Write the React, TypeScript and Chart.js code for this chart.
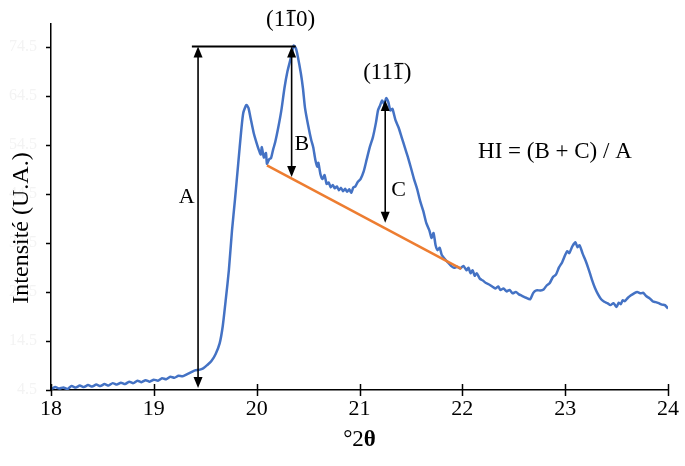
import React, { useEffect, useRef } from 'react';
import { Chart, registerables } from 'chart.js';

Chart.register(...registerables);

// ----- data -----
const twoTheta = [
  18.00, 18.04, 18.08, 18.12, 18.16, 18.20, 18.24, 18.28, 18.32, 18.36, 18.40, 18.44, 18.48, 18.52, 18.56,
  18.60, 18.64, 18.68, 18.72, 18.76, 18.80, 18.84, 18.88, 18.92, 18.96, 19.00, 19.04, 19.08, 19.12, 19.16,
  19.20, 19.24, 19.28, 19.32, 19.36, 19.40, 19.44, 19.48, 19.52, 19.56, 19.60, 19.64, 19.67, 19.70, 19.73,
  19.76, 19.79, 19.82, 19.85, 19.87, 19.90, 19.92, 19.94, 19.97, 19.99, 20.02, 20.04, 20.05, 20.07, 20.09,
  20.10, 20.12, 20.14, 20.16, 20.18, 20.21, 20.24, 20.27, 20.30, 20.33, 20.36, 20.38, 20.40, 20.43, 20.45,
  20.47, 20.50, 20.53, 20.55, 20.57, 20.59, 20.60, 20.62, 20.64, 20.66, 20.68, 20.70, 20.72, 20.74, 20.76,
  20.78, 20.80, 20.82, 20.84, 20.86, 20.88, 20.90, 20.92, 20.94, 20.96, 20.98, 21.01, 21.04, 21.07, 21.10,
  21.13, 21.16, 21.18, 21.20, 21.22, 21.24, 21.26, 21.28, 21.30, 21.32, 21.35, 21.38, 21.41, 21.44, 21.47,
  21.50, 21.53, 21.56, 21.59, 21.62, 21.65, 21.68, 21.70, 21.72, 21.74, 21.76, 21.78, 21.80, 21.83, 21.86,
  21.89, 21.92, 21.95, 21.98, 22.01, 22.04, 22.06, 22.08, 22.10, 22.12, 22.14, 22.17, 22.20, 22.23, 22.26,
  22.29, 22.32, 22.35, 22.37, 22.40, 22.43, 22.46, 22.49, 22.52, 22.55, 22.58, 22.62, 22.66, 22.69, 22.72,
  22.76, 22.79, 22.82, 22.85, 22.88, 22.91, 22.94, 22.97, 23.00, 23.02, 23.04, 23.07, 23.10, 23.12, 23.14,
  23.17, 23.20, 23.23, 23.26, 23.29, 23.32, 23.35, 23.38, 23.41, 23.44, 23.47, 23.50, 23.52, 23.54, 23.56,
  23.58, 23.61, 23.64, 23.67, 23.70, 23.73, 23.76, 23.79, 23.82, 23.85, 23.88, 23.91, 23.94, 23.97, 24.00,
];
const intensity = [
  4.6, 5.1, 4.8, 5.0, 4.7, 5.3, 5.0, 5.4, 5.1, 5.5, 5.2, 5.6, 5.3, 5.7, 5.4,
  5.9, 5.6, 6.0, 5.7, 6.2, 5.9, 6.4, 6.1, 6.5, 6.2, 6.6, 6.4, 6.9, 6.7, 7.2,
  7.0, 7.4, 7.3, 7.7, 8.1, 8.5, 8.6, 8.9, 9.6, 10.4, 11.8, 14.0, 17.5, 23.0, 29.0,
  37.0, 43.5, 50.5, 57.4, 61.0, 62.6, 62.0, 60.0, 57.0, 55.5, 53.5, 52.5, 54.0, 51.9, 52.8,
  50.6, 51.5, 51.8, 53.5, 55.0, 58.0, 61.5, 66.0, 69.5, 72.0, 74.7, 74.2, 72.5, 69.0, 66.0,
  62.0, 58.5, 55.5, 54.0, 51.5, 50.0, 50.8, 48.5, 47.5, 48.3, 46.5, 46.8, 45.8, 46.3, 45.6,
  46.0, 45.2, 45.7, 45.0, 45.5, 44.9, 45.4, 44.7, 45.8, 46.0, 46.8, 47.5, 49.0, 51.5, 54.0,
  56.0, 59.0, 61.5, 62.5, 63.5, 62.8, 64.0, 63.2, 61.5, 61.8, 59.5, 58.0, 56.0, 54.0, 52.0,
  49.8, 47.5, 45.5, 43.0, 41.0, 38.5, 37.0, 35.5, 36.5, 34.0, 33.0, 33.5, 32.0, 31.2, 30.5,
  29.8, 29.4, 29.6, 29.3, 29.8, 28.9, 29.4, 28.3, 28.9, 27.8, 28.3, 27.2, 26.8, 26.3, 26.0,
  25.6, 25.2, 25.6, 24.9, 25.2, 24.6, 24.9, 24.2, 24.5, 24.0, 23.7, 23.3, 23.0, 24.3, 24.8,
  24.8, 25.0, 25.8, 26.3, 27.5, 28.0, 29.5, 30.5, 32.0, 32.8, 32.4, 33.8, 34.6, 33.6, 34.0,
  32.3, 30.8, 29.0, 27.0, 25.3, 24.0, 23.0, 22.5, 22.2, 21.8, 22.2, 21.4, 22.3, 22.0, 22.8,
  22.6, 23.3, 23.8, 24.2, 24.5, 24.2, 24.3, 23.6, 23.2, 22.6, 22.4, 22.2, 21.9, 21.8, 21.1,
];

const baselineTheta = [20.10, 21.99];
const baselineIntensity = [50.3, 29.2];

const capTheta = [19.37, 20.38];
const capIntensity = [74.5, 74.5];

const arrowTheta = [19.43, 20.34, 21.25];
const arrowTop = [74.5, 74.5, 63.6];
const arrowBottom = [4.9, 47.9, 38.6];

const letterText = ['A', 'B', 'C'];
const letterTheta = [19.32, 20.44, 21.38];
const letterIntensity = [43.8, 54.5, 45.3];

const peakParts = [['(1', '1', '0)'], ['(11', '1', ')']];
const peakTheta = [20.33, 21.27];
const peakIntensity = [79.9, 69.1];

const formulaText = 'HI = (B + C) / A';
const formulaTheta = 22.9;
const formulaIntensity = 53.0;

const xTicks = [18, 19, 20, 21, 22, 23, 24];
const yTicks = [4.5, 14.5, 24.5, 34.5, 44.5, 54.5, 64.5, 74.5];

const X_TITLE_A = '°2';
const X_TITLE_B = 'θ';
const Y_TITLE = 'Intensité (U.A.)';

const SERIF = '"Liberation Serif", "Times New Roman", serif';

const annotatePlugin = {
  id: 'annotate',
  afterDatasetsDraw(chart: any) {
    const { ctx, scales } = chart;
    const x = scales.x;
    const y = scales.y;
    ctx.save();
    ctx.strokeStyle = '#000';
    ctx.fillStyle = '#000';
    // arrows
    const head = 11;
    const half = 4.5;
    arrowTheta.forEach((t, i) => {
      const px = x.getPixelForValue(t);
      const yt = y.getPixelForValue(arrowTop[i]);
      const yb = y.getPixelForValue(arrowBottom[i]);
      ctx.lineWidth = 1.6;
      ctx.beginPath();
      ctx.moveTo(px, yt + head - 1);
      ctx.lineTo(px, yb - head + 1);
      ctx.stroke();
      ctx.beginPath();
      ctx.moveTo(px, yt);
      ctx.lineTo(px - half, yt + head);
      ctx.lineTo(px + half, yt + head);
      ctx.closePath();
      ctx.fill();
      ctx.beginPath();
      ctx.moveTo(px, yb);
      ctx.lineTo(px - half, yb - head);
      ctx.lineTo(px + half, yb - head);
      ctx.closePath();
      ctx.fill();
    });
    // letters
    ctx.font = `22px ${SERIF}`;
    ctx.textAlign = 'center';
    ctx.textBaseline = 'middle';
    letterText.forEach((s, i) => {
      ctx.fillText(s, x.getPixelForValue(letterTheta[i]), y.getPixelForValue(letterIntensity[i]));
    });
    // peak labels with overbar
    ctx.font = `23px ${SERIF}`;
    ctx.textAlign = 'left';
    peakParts.forEach((parts, i) => {
      const cx = x.getPixelForValue(peakTheta[i]);
      const cy = y.getPixelForValue(peakIntensity[i]);
      const full = parts.join('');
      const w = ctx.measureText(full).width;
      const x0 = cx - w / 2;
      ctx.fillText(full, x0, cy);
      const a = x0 + ctx.measureText(parts[0]).width;
      const b = a + ctx.measureText(parts[1]).width;
      ctx.lineWidth = 1.3;
      ctx.beginPath();
      ctx.moveTo(a + 1.5, cy - 9.5);
      ctx.lineTo(b - 1, cy - 9.5);
      ctx.stroke();
    });
    // formula
    ctx.textAlign = 'center';
    ctx.font = `23px ${SERIF}`;
    ctx.fillText(formulaText, x.getPixelForValue(formulaTheta), y.getPixelForValue(formulaIntensity));
    ctx.restore();
  },
  afterDraw(chart: any) {
    const { ctx, scales, chartArea } = chart;
    const x = scales.x;
    const y = scales.y;
    ctx.save();
    ctx.strokeStyle = '#000';
    ctx.lineWidth = 1.5;
    xTicks.forEach((v) => {
      const px = Math.round(x.getPixelForValue(v)) + 0.5;
      ctx.beginPath();
      ctx.moveTo(px, chartArea.bottom - 6);
      ctx.lineTo(px, chartArea.bottom + 6);
      ctx.stroke();
    });
    yTicks.forEach((v) => {
      const py = Math.round(y.getPixelForValue(v)) + 0.5;
      ctx.beginPath();
      ctx.moveTo(chartArea.left - 5, py);
      ctx.lineTo(chartArea.left, py);
      ctx.stroke();
    });
    // x title: "°2" regular + "θ" bold
    ctx.fillStyle = '#000';
    ctx.textBaseline = 'middle';
    ctx.textAlign = 'left';
    const cx = (chartArea.left + chartArea.right) / 2;
    ctx.font = `23px ${SERIF}`;
    const wA = ctx.measureText(X_TITLE_A).width;
    ctx.font = `bold 23px ${SERIF}`;
    const wB = ctx.measureText(X_TITLE_B).width;
    const sx = cx - (wA + wB) / 2;
    ctx.font = `23px ${SERIF}`;
    ctx.fillText(X_TITLE_A, sx, 440);
    ctx.font = `bold 23px ${SERIF}`;
    ctx.fillText(X_TITLE_B, sx + wA, 440);
    // y title
    ctx.save();
    ctx.translate(22, 228);
    ctx.rotate(-Math.PI / 2);
    ctx.textAlign = 'center';
    ctx.font = `24px ${SERIF}`;
    ctx.fillText(Y_TITLE, 0, 0);
    ctx.restore();
    ctx.restore();
  },
};

export default function App() {
  const ref = useRef<HTMLCanvasElement | null>(null);
  useEffect(() => {
    document.body.style.margin = '0';
    const canvas = ref.current;
    if (!canvas) return;
    const chart = new Chart(canvas, {
      type: 'line',
      data: {
        datasets: [
          {
            label: 'baseline',
            data: baselineTheta.map((t, i) => ({ x: t, y: baselineIntensity[i] })),
            borderColor: '#ED7D31',
            borderWidth: 2.5,
            pointRadius: 0,
            order: 0,
          },
          {
            label: 'cap',
            data: capTheta.map((t, i) => ({ x: t, y: capIntensity[i] })),
            borderColor: '#000000',
            borderWidth: 2,
            pointRadius: 0,
            order: 0,
          },
          {
            label: 'XRD',
            data: twoTheta.map((t, i) => ({ x: t, y: intensity[i] })),
            borderColor: '#4472C4',
            borderWidth: 2.5,
            pointRadius: 0,
            tension: 0.2,
            order: 1,
          },
        ],
      },
      options: {
        animation: false,
        responsive: false,
        devicePixelRatio: 1,
        layout: { padding: { top: 24, right: 13, bottom: 0, left: 0 } },
        plugins: { legend: { display: false }, tooltip: { enabled: false } },
        scales: {
          x: {
            type: 'linear',
            min: 18,
            max: 24,
            afterFit: (s: any) => { s.height = 76; },
            afterBuildTicks: (s: any) => { s.ticks = xTicks.map((v) => ({ value: v })); },
            ticks: {
              stepSize: 1,
              maxRotation: 0,
              padding: 6,
              color: '#000',
              font: { family: SERIF, size: 22 },
            },
            grid: { display: true, drawOnChartArea: false, drawTicks: false, color: 'rgba(0,0,0,0)' },
            border: { display: true, color: '#000', width: 1.5 },
          },
          y: {
            type: 'linear',
            min: 4.5,
            max: 79.1,
            afterFit: (s: any) => { s.width = 51; },
            afterBuildTicks: (s: any) => { s.ticks = yTicks.map((v) => ({ value: v })); },
            ticks: {
              padding: 14,
              color: '#f3f3f3',
              font: { family: SERIF, size: 16 },
              callback: (v: any) => Number(v).toFixed(1),
            },
            grid: { display: true, drawOnChartArea: false, drawTicks: false, color: 'rgba(0,0,0,0)' },
            border: { display: true, color: '#000', width: 1.5 },
          },
        },
      },
      plugins: [annotatePlugin],
    });
    return () => chart.destroy();
  }, []);
  return (
    <div style={{ position: 'absolute', left: 0, top: 0, width: 685, height: 466, background: '#fff' }}>
      <canvas ref={ref} width={685} height={466} style={{ width: 685, height: 466, display: 'block' }} />
    </div>
  );
}
